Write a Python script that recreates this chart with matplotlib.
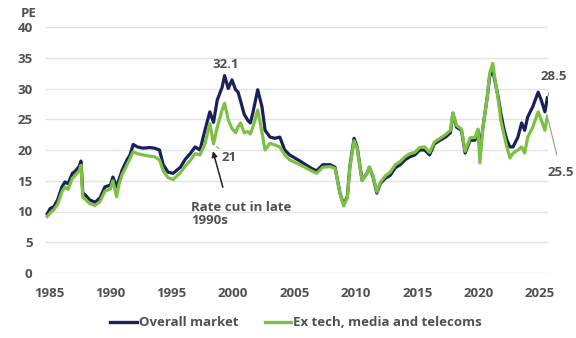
import matplotlib
matplotlib.use("Agg")
import matplotlib.pyplot as plt

# PE ratio history: overall market vs ex tech, media and telecoms
years = [1984.85, 1985.1, 1985.4, 1985.7, 1986.05, 1986.3, 1986.55, 1986.9, 1987.1, 1987.45,
         1987.6, 1987.75, 1987.95, 1988.3, 1988.75, 1989.15, 1989.55, 1990.0, 1990.2, 1990.5,
         1990.7, 1990.95, 1991.35, 1991.6, 1991.85, 1992.2, 1992.65, 1993.2, 1993.6, 1994.0,
         1994.3, 1994.7, 1995.1, 1995.7, 1996.1, 1996.5, 1996.9, 1997.3, 1997.7, 1998.1,
         1998.4, 1998.7, 1999.1, 1999.3, 1999.6, 1999.9, 2000.2, 2000.4, 2000.6, 2000.9,
         2001.2, 2001.4, 2001.6, 2002.0, 2002.35, 2002.6, 2003.0, 2003.4, 2003.8, 2004.2,
         2004.6, 2005.45, 2006.3, 2006.8, 2007.3, 2007.9, 2008.3, 2008.7, 2009.0, 2009.3,
         2009.5, 2009.85, 2010.1, 2010.5, 2010.9, 2011.1, 2011.4, 2011.7, 2012.0, 2012.4,
         2012.8, 2013.2, 2013.6, 2014.0, 2014.4, 2014.8, 2015.2, 2015.6, 2016.0, 2016.4,
         2016.85, 2017.3, 2017.7, 2017.9, 2018.2, 2018.6, 2018.9, 2019.3, 2019.7, 2019.95,
         2020.1, 2020.35, 2020.7, 2020.9, 2021.15, 2021.3, 2021.6, 2021.8, 2022.05, 2022.3,
         2022.55, 2022.8, 2023.2, 2023.5, 2023.75, 2024.0, 2024.4, 2024.85, 2025.1, 2025.4,
         2025.6]
overall = [9.6, 10.5, 10.8, 11.9, 14.0, 14.8, 14.5, 16.2, 16.5, 17.3,
           18.2, 13.0, 12.7, 11.9, 11.5, 12.2, 14.0, 14.3, 15.6, 14.0,
           15.2, 16.7, 18.4, 19.2, 20.9, 20.5, 20.3, 20.4, 20.3, 20.0,
           17.6, 16.4, 16.2, 17.2, 18.5, 19.4, 20.5, 20.0, 23.2, 26.2,
           24.5, 28.1, 30.2, 32.1, 30.0, 31.4, 29.8, 29.4, 28.0, 25.8,
           24.8, 24.4, 26.0, 29.8, 27.0, 23.2, 22.1, 21.9, 22.1, 20.0,
           19.2, 18.2, 17.1, 16.6, 17.6, 17.6, 17.2, 13.0, 11.1, 12.4,
           17.2, 21.9, 20.5, 15.1, 16.2, 17.2, 15.6, 13.0, 14.6, 15.4,
           15.9, 17.1, 17.6, 18.4, 18.9, 19.2, 20.0, 20.0, 19.2, 21.0,
           21.6, 22.1, 22.8, 26.0, 23.7, 23.2, 19.5, 21.6, 21.6, 23.2,
           20.0, 23.7, 28.6, 32.0, 33.0, 31.5, 28.5, 26.0, 23.5, 21.6,
           20.5, 20.5, 22.1, 24.4, 23.2, 25.4, 27.0, 29.4, 28.1, 26.2,
           28.5]
ex_tmt = [9.2, 9.8, 10.3, 11.2, 13.2, 14.0, 13.6, 15.4, 15.8, 16.6,
          17.5, 12.3, 12.0, 11.3, 11.0, 11.6, 13.3, 13.7, 15.0, 12.4,
          14.4, 16.0, 17.6, 18.6, 19.7, 19.4, 19.2, 19.0, 18.9, 18.4,
          16.6, 15.5, 15.2, 16.3, 17.4, 18.3, 19.4, 19.2, 21.0, 24.3,
          21.0, 23.7, 26.5, 27.6, 24.9, 23.5, 22.8, 23.8, 24.4, 22.8,
          23.0, 22.6, 23.7, 26.5, 22.8, 20.0, 21.1, 20.8, 20.5, 19.2,
          18.4, 17.6, 16.7, 16.2, 17.2, 17.3, 17.0, 13.0, 10.9, 12.2,
          17.0, 21.5, 20.3, 15.0, 16.2, 17.2, 15.8, 13.2, 14.8, 15.8,
          16.4, 17.6, 18.1, 18.9, 19.4, 19.6, 20.4, 20.5, 19.6, 21.3,
          21.9, 22.5, 23.2, 26.0, 24.0, 23.4, 19.8, 22.0, 22.0, 23.4,
          17.9, 23.7, 28.6, 32.5, 34.1, 31.9, 28.1, 24.9, 22.6, 20.5,
          18.7, 19.5, 20.0, 20.5, 19.5, 22.1, 23.7, 26.2, 24.9, 23.2,
          25.5]

x_ticks = [1985, 1990, 1995, 2000, 2005, 2010, 2015, 2020, 2025]
y_ticks = [0, 5, 10, 15, 20, 25, 30, 35, 40]

navy = "#1b1f5a"
green = "#7cc143"
grey = "#505050"
plt.rcParams["font.family"] = ["Open Sans", "DejaVu Sans"]

fig = plt.figure(figsize=(5.76, 3.38), dpi=100)
ax = fig.add_axes([45 / 576, 65 / 338, 503 / 576, 246 / 338])

ax.plot(years, overall, color=navy, lw=2.3, label="Overall market", zorder=3)
ax.plot(years, ex_tmt, color=green, lw=2.3, label="Ex tech, media and telecoms", zorder=4)

ax.set_xlim(1984.67, 2025.65)
ax.set_ylim(0, 40)
ax.set_xticks(x_ticks)
ax.set_yticks(y_ticks)
ax.grid(axis="y", color="#e3e3e3", lw=1.0)
ax.set_axisbelow(True)
for s in ax.spines.values():
    s.set_visible(False)
ax.tick_params(length=0, labelsize=9.5, labelcolor=grey)
ax.tick_params(axis="y", pad=9)
ax.tick_params(axis="x", pad=10)
for lab in ax.get_xticklabels() + ax.get_yticklabels():
    lab.set_fontweight("bold")

ax.text(-8 / 503, 1.055, "PE", transform=ax.transAxes, ha="right", va="center",
        fontsize=9.5, color=grey, fontweight="bold")

# labels on the peak, the rate-cut dip and the latest values
ann = dict(fontsize=9.5, color=grey, fontweight="bold")
i_peak = overall.index(32.1)
ax.annotate(f"{overall[i_peak]}", (years[i_peak], overall[i_peak]), xytext=(1, 3),
            textcoords="offset points", ha="center", va="bottom", **ann)
i_cut = years.index(1998.4)
ax.annotate(f"{ex_tmt[i_cut]:g}", (years[i_cut], ex_tmt[i_cut]), xytext=(6, -10),
            textcoords="offset points", ha="left", va="center",
            arrowprops=dict(arrowstyle="-", color="#999999", lw=0.8, shrinkA=0, shrinkB=3),
            **ann)
ax.annotate("Rate cut in late\n1990s", (years[i_cut] - 0.05, ex_tmt[i_cut] - 1.2),
            xytext=(1996.6, 9.6), ha="left", va="center", linespacing=1.05,
            arrowprops=dict(arrowstyle="-|>", color="#222222", lw=1.1,
                            mutation_scale=8, shrinkA=8, shrinkB=0,
                            relpos=(0.35, 1.0)),
            annotation_clip=False, **ann)
ax.annotate(f"{overall[-1]}", (years[-1], overall[-1]), xytext=(2026.1, 31.9),
            ha="center", va="center", annotation_clip=False,
            arrowprops=dict(arrowstyle="-", color="#999999", lw=0.8, shrinkA=5, shrinkB=1),
            **ann)
ax.annotate(f"{ex_tmt[-1]}", (years[-1], ex_tmt[-1]), xytext=(2026.7, 16.4),
            ha="center", va="center", annotation_clip=False,
            arrowprops=dict(arrowstyle="-", color="#999999", lw=0.8, shrinkA=6, shrinkB=1),
            **ann)

leg = fig.legend(loc="center", bbox_to_anchor=(0.514, 0.045), ncol=2, frameon=False,
                 handlelength=2.0, handletextpad=0.15, columnspacing=2.0,
                 prop={"size": 9.5, "weight": "bold"})
for t in leg.get_texts():
    t.set_color(grey)
for h in leg.get_lines():
    h.set_linewidth(2.4)

fig.savefig("out.png", dpi=100)
